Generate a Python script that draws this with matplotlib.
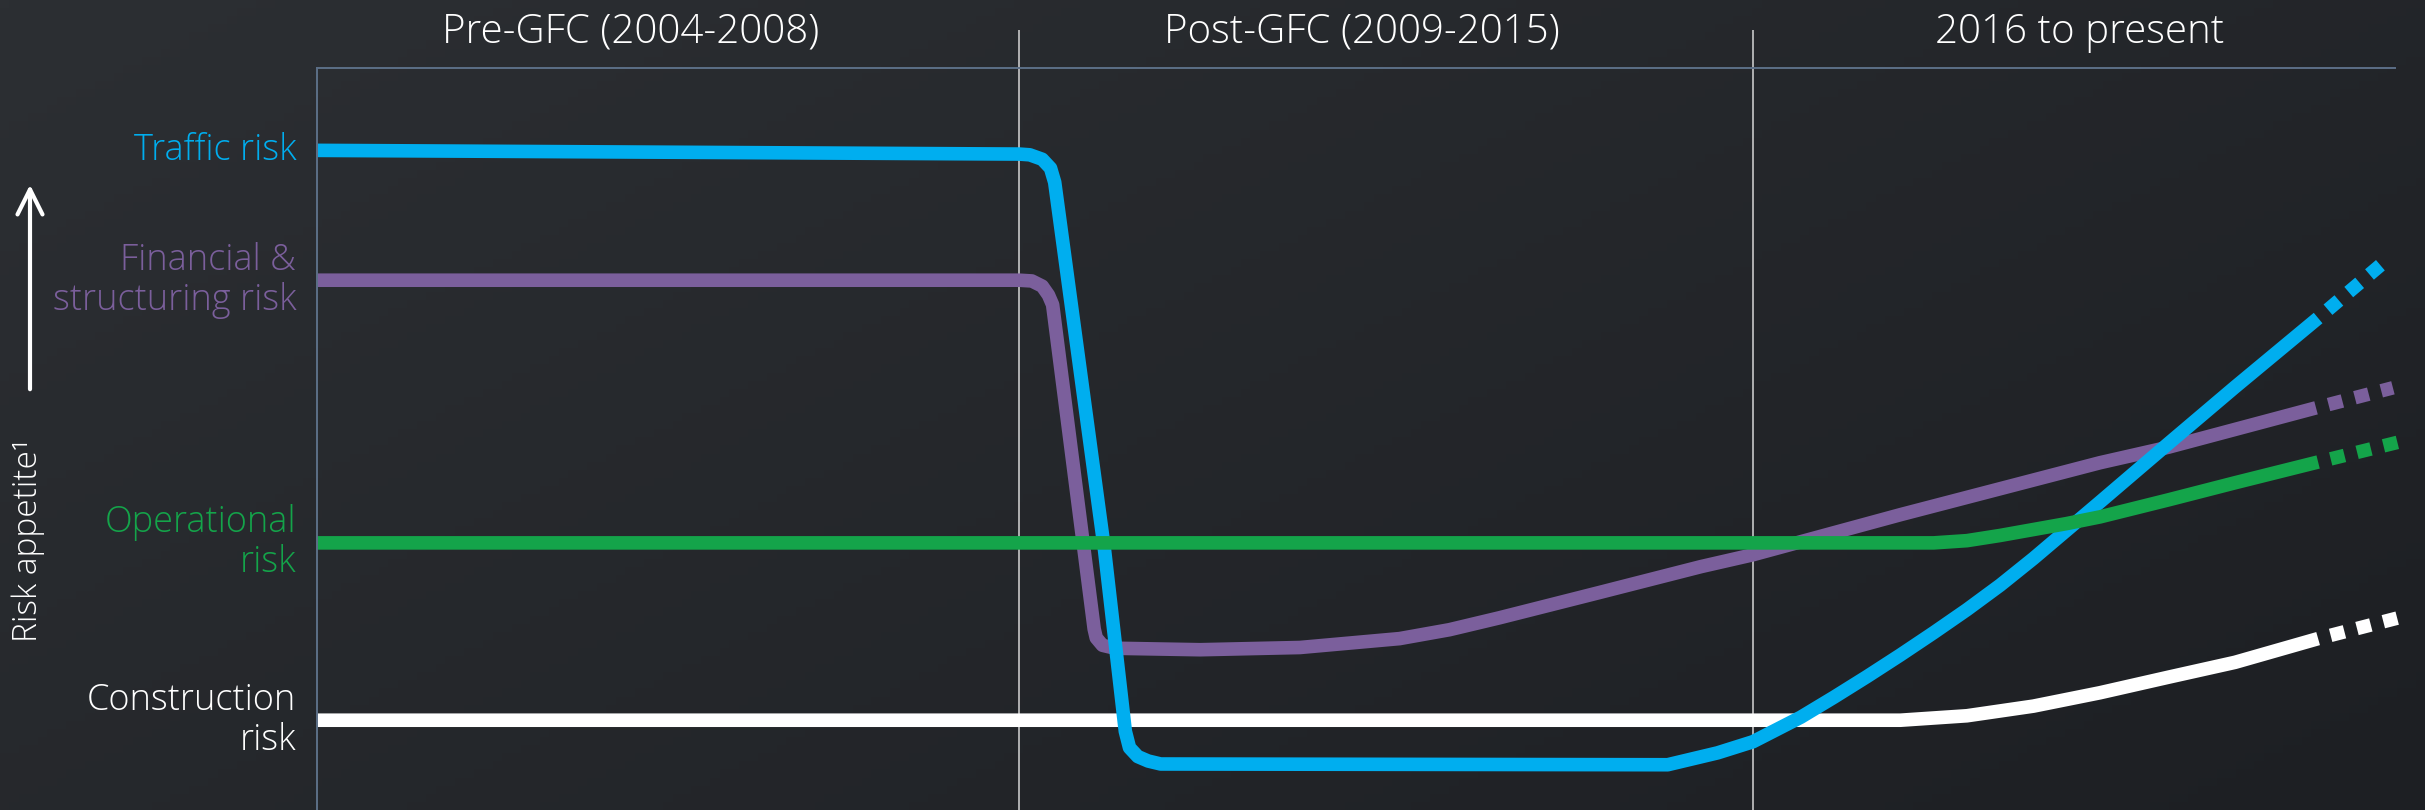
import matplotlib.pyplot as plt
import numpy as np

# 期間 (x軸: タイムライン 0-100, y軸: リスク許容度 0-100)
periods = ['Pre-GFC (2004-2008)', 'Post-GFC (2009-2015)', '2016 to present']
period_centers = [15.1, 50.3, 84.8]
boundaries = [33.8, 69.1]

# Traffic risk
traffic_x = [0, 33.8, 34.3, 34.9, 35.3, 35.5, 37.9, 38.9, 39.1, 39.5, 40.0,
             40.6, 65.0, 67.4, 69.1, 71.4, 73.0, 74.6, 76.2, 77.8, 79.4,
             81.0, 82.6, 84.2, 85.8, 89.1, 92.3, 96.3]
traffic_y = [88.9, 88.4, 88.3, 87.7, 86.5, 84.6, 35.0, 10.6, 8.4, 7.2, 6.6,
             6.2, 6.1, 7.7, 9.2, 12.5, 15.2, 18.0, 20.9, 23.9, 27.0,
             30.3, 33.9, 37.7, 41.5, 49.4, 57.0, 66.3]
traffic_outlook = [99.5, 73.9]

# Financial & structuring risk
fin_x = [0, 33.8, 34.4, 34.9, 35.2, 35.4, 37.4, 37.5, 37.8, 38.4, 42.5, 47.3,
         52.1, 54.5, 56.9, 61.7, 66.6, 69.1, 76.2, 85.8, 89.1, 96.2]
fin_y = [71.4, 71.4, 71.3, 70.6, 69.4, 68.1, 24.4, 23.2, 22.2, 21.8, 21.6, 21.9,
         23.1, 24.3, 25.9, 29.3, 32.8, 34.4, 39.8, 46.8, 48.9, 54.2]
fin_outlook = [99.9, 56.9]

# Operational risk
op_x = [0, 77.8, 79.4, 81.0, 82.6, 84.2, 85.8, 89.1, 92.3, 96.3]
op_y = [36.0, 36.0, 36.3, 37.0, 37.8, 38.6, 39.5, 41.8, 44.1, 46.9]
op_outlook = [100.2, 49.6]

# Construction risk
con_x = [0, 76.2, 79.4, 82.6, 85.8, 89.1, 92.3, 96.3]
con_y = [12.1, 12.1, 12.7, 14.0, 15.8, 17.9, 19.9, 23.1]
con_outlook = [100.3, 26.0]

series = [
    ('Financial &\nstructuring risk', fin_x, fin_y, fin_outlook, '#7B5F9C'),
    ('Construction\nrisk', con_x, con_y, con_outlook, '#FFFFFF'),
    ('Traffic risk', traffic_x, traffic_y, traffic_outlook, '#00AEEF'),
    ('Operational\nrisk', op_x, op_y, op_outlook, '#14A44A'),
]

plt.rcParams['font.family'] = ['Open Sans', 'DejaVu Sans']
plt.rcParams['font.weight'] = 'light'

fig = plt.figure(figsize=(24.25, 8.10), dpi=100)

# 背景のグラデーション
bg = fig.add_axes([0, 0, 1, 1])
gx = np.linspace(0, 1, 256)
gy = np.linspace(0, 1, 100)
GX, GY = np.meshgrid(gx, gy)
t = 0.6 * GX + 0.4 * GY
c0 = np.array([44, 47, 51]) / 255
c1 = np.array([29, 31, 35]) / 255
img = c0[None, None, :] * (1 - t[..., None]) + c1[None, None, :] * t[..., None]
bg.imshow(img, aspect='auto', extent=[0, 1, 0, 1])
bg.set_axis_off()

ax = fig.add_axes([317 / 2425, 0, 2078 / 2425, 742 / 810])
ax.patch.set_alpha(0)
ax.set_xlim(0, 100)
ax.set_ylim(0, 100)
ax.set_xticks([])
ax.set_yticks([])
for side in ['right', 'bottom']:
    ax.spines[side].set_visible(False)
for side in ['top', 'left']:
    ax.spines[side].set_color('#5C6F87')
    ax.spines[side].set_linewidth(1.4)

# 期間の区切り線
ax.vlines(boundaries, 0, 105.1, color='#D6D6D6', lw=1.1, clip_on=False)

for name, c in zip(periods, period_centers):
    ax.text(c, 103.4, name, ha='center', va='baseline', fontsize=29,
            color='white', clip_on=False)

for label, xs, ys, outlook, color in series:
    ax.plot(xs, ys, color=color, lw=9.8, solid_capstyle='butt',
            solid_joinstyle='round', clip_on=False)
    ax.plot([xs[-1], outlook[0]], [ys[-1], outlook[1]], color=color, lw=9.8,
            linestyle=(1.05, (1.05, 0.95)), dash_capstyle='butt', clip_on=False)
    ax.text(-1.0, ys[0], label, ha='right', va='center', fontsize=26,
            color=color, linespacing=1.1, multialignment='right',
            clip_on=False)

# 縦軸ラベルと矢印
fig.text(28 / 2425, 1 - 540 / 810, 'Risk appetite\u00b9', rotation=90,
         ha='center', va='center', fontsize=24, color='white')
fig.patches.append(plt.matplotlib.patches.FancyArrowPatch(
    (30 / 2425, 1 - 392 / 810), (30 / 2425, 1 - 182 / 810),
    transform=fig.transFigure, arrowstyle='->,head_length=0.9,head_width=0.45',
    color='white', lw=3, mutation_scale=20))

fig.savefig('out.png', dpi=100)
